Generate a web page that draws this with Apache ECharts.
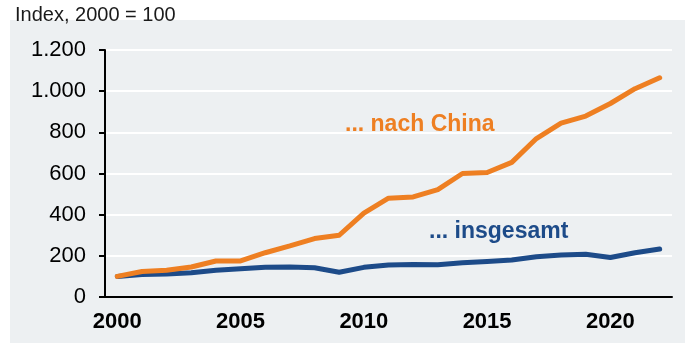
<!DOCTYPE html>
<html>
<head>
<meta charset="utf-8">
<script src="https://cdn.jsdelivr.net/npm/echarts@6/dist/echarts.min.js"></script>
<style>
html,body{margin:0;padding:0;background:#ffffff;}
#c{width:685px;height:343px;}
</style>
</head>
<body>
<div id="c"></div>
<script>
const years = ['2000','2001','2002','2003','2004','2005','2006','2007','2008','2009','2010','2011','2012','2013','2014','2015','2016','2017','2018','2019','2020','2021','2022'];
const china = [100,124,130,146,175,175,215,248,284,300,408,480,486,522,600,605,654,770,845,879,940,1012,1065];
const total = [100,109,112,118,130,137,144,146,142,120,144,156,158,157,166,172,180,196,204,208,192,215,233];
const yTicks = [0,200,400,600,800,1000,1200];
const titleText = 'Index, 2000 = 100';
const labelChina = '... nach China';
const labelTotal = '... insgesamt';

const chart = echarts.init(document.getElementById('c'), null, {renderer:'canvas'});
const fmt = v => String(v).replace(/\B(?=(\d{3})+(?!\d))/g, '.');
chart.setOption({
  animation:false,
  backgroundColor:'#ffffff',
  textStyle:{fontFamily:'Liberation Sans, Arial, sans-serif'},
  graphic:[
    {type:'rect', z:-10, shape:{x:10,y:20,width:675,height:323}, style:{fill:'#edf0f2'}},
    {type:'text', left:345, top:113, style:{text:labelChina, fill:'#ee7f22', font:'bold 23px "Liberation Sans", Arial, sans-serif'}},
    {type:'text', left:429, top:220, style:{text:labelTotal, fill:'#1d4b89', font:'bold 23px "Liberation Sans", Arial, sans-serif'}}
  ],
  title:{text:titleText, left:10, top:0, textStyle:{fontSize:20, fontWeight:'normal', color:'#1a1a1a', fontFamily:'Liberation Sans, Arial, sans-serif'}},
  grid:{left:105, right:13, top:50, bottom:46, containLabel:false},
  xAxis:{
    type:'category', data:years, boundaryGap:true,
    axisLine:{lineStyle:{color:'#000', width:2}},
    axisTick:{show:false},
    axisLabel:{interval:4, margin:14, fontSize:22, fontWeight:'bold', color:'#000'},
    splitLine:{show:false}
  },
  yAxis:{
    type:'value', min:yTicks[0], max:yTicks[yTicks.length-1], interval:200,
    axisLine:{show:true, lineStyle:{color:'#000', width:2}},
    axisTick:{show:true, length:6, lineStyle:{color:'#000', width:2}},
    axisLabel:{margin:19, fontSize:22, color:'#000', formatter:fmt},
    splitLine:{show:true, lineStyle:{color:'#ffffff', width:2}}
  },
  series:[
    {name:'insgesamt', type:'line', data:total, symbol:'none', z:3, lineStyle:{color:'#1d4b89', width:5, cap:'round', join:'round'}},
    {name:'China', type:'line', data:china, symbol:'none', z:4, lineStyle:{color:'#ee7f22', width:5, cap:'round', join:'round'}}
  ]
});
</script>
</body>
</html>
